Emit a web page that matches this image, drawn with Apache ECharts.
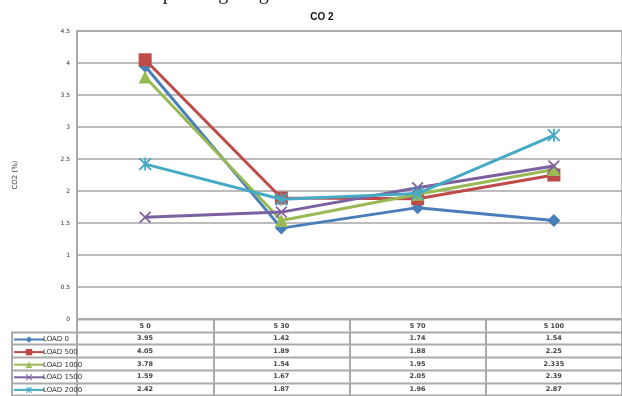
<!DOCTYPE html>
<html>
<head>
  <meta charset="UTF-8" />
  <title>CO2</title>
  <style type="text/css">
    * { margin: 0; padding: 0; }
    body { background: #fff; }
    #main { width: 622px; height: 396px; }
  </style>
</head>
<body>
  <div id="main"></div>
  <script src="https://cdn.jsdelivr.net/npm/echarts@6/dist/echarts.min.js"></script>
  <script type="text/javascript">
    // data
    let categories = ['5 0', '5 30', '5 70', '5 100']
    let seriesNames = ['LOAD 0', 'LOAD 500', 'LOAD 1000', 'LOAD 1500', 'LOAD 2000']
    let load0 = [3.95, 1.42, 1.74, 1.54]
    let load500 = [4.05, 1.89, 1.88, 2.25]
    let load1000 = [3.78, 1.54, 1.95, 2.335]
    let load1500 = [1.59, 1.67, 2.05, 2.39]
    let load2000 = [2.42, 1.87, 1.96, 2.87]
    let yTicks = [0, 0.5, 1, 1.5, 2, 2.5, 3, 3.5, 4, 4.5]

    let values = [load0, load500, load1000, load1500, load2000]
    let colors = ['#4a7ebb', '#be4b48', '#98b954', '#7d60a0', '#46aac5']
    let xPath = 'M1,0L5,4L9,0L10,1L6,5L10,9L9,10L5,6L1,10L0,9L4,5L0,1Z'
    let symbols = ['diamond', 'rect', 'triangle', 'path://' + xPath,
      'path://' + xPath + 'M4.3,0L5.7,0L5.7,10L4.3,10Z']
    let sizes = [13, 13, 13, 12, 13]

    let oBox = document.getElementById('main')
    let myChart = echarts.init(oBox)

    let series = seriesNames.map((name, i) => {
      return {
        name: name,
        type: 'line',
        data: values[i],
        symbol: symbols[i],
        symbolSize: sizes[i],
        lineStyle: { width: 3, color: colors[i] },
        itemStyle: { color: colors[i] },
        z: 2 + i
      }
    })

    let option = {
      animation: false,
      title: {
        text: 'CO 2',
        left: 317,
        top: 7,
        textAlign: 'center',
        textStyle: { fontSize: 10, fontWeight: 'bold', color: '#111', fontFamily: 'Liberation Sans' }
      },
      grid: { left: 77, right: -3, top: 31, bottom: 77, show: true, borderColor: '#bdbdbd', borderWidth: 2 },
      legend: {
        orient: 'vertical',
        left: 13,
        top: 336,
        padding: 0,
        itemGap: 5.6,
        itemWidth: 30,
        itemHeight: 8,
        data: seriesNames,
        textStyle: { fontSize: 7, color: '#333', fontFamily: 'DejaVu Sans', padding: [0, 0, 0, -6] }
      },
      xAxis: {
        type: 'category',
        data: categories,
        boundaryGap: true,
        axisLine: { show: false },
        axisTick: { show: true, length: 77, inside: false, lineStyle: { color: '#aaa', width: 2 } },
        axisLabel: { show: false },
        splitLine: { show: false }
      },
      yAxis: {
        type: 'value',
        min: yTicks[0],
        max: yTicks[yTicks.length - 1],
        interval: 0.5,
        name: 'CO2 (%)',
        nameLocation: 'middle',
        nameRotate: 90,
        nameGap: 58,
        nameTextStyle: { fontSize: 7, color: '#333', fontFamily: 'DejaVu Sans' },
        axisLine: { show: true, lineStyle: { color: '#aaa', width: 2 } },
        axisTick: { show: false },
        axisLabel: { fontSize: 6, color: '#333', margin: 7, fontFamily: 'DejaVu Sans' },
        splitLine: { show: true, lineStyle: { color: '#a6a6a6', width: 1.5 } }
      },
      series: series
    }
    myChart.setOption(option)

    // data table under the plot
    let rowTop = 319
    let rowH = 12.7
    let graphic = [{
      type: 'text',
      left: 30,
      top: -16,
      style: { text: 'function of the operating range at load CO emission', font: '20px "Liberation Serif"', fill: '#222' }
    }]
    // horizontal lines
    for (let r = 0; r <= seriesNames.length + 1; r++) {
      let y = Math.round(rowTop + r * rowH) + 0.5
      graphic.push({
        type: 'line',
        shape: { x1: r === 0 ? 77 : 12, y1: y, x2: 622, y2: y },
        style: { stroke: '#aaa', lineWidth: 2 }
      })
    }
    graphic.push({
      type: 'line',
      shape: { x1: 12, y1: rowTop + rowH, x2: 12, y2: 396 },
      style: { stroke: '#aaa', lineWidth: 2 }
    })
    categories.forEach((cat, c) => {
      let cx = myChart.convertToPixel({ xAxisIndex: 0 }, c)
      graphic.push({
        type: 'text',
        x: cx, y: rowTop + rowH / 2 + 0.5,
        style: { text: cat, font: 'bold 6.5px "DejaVu Sans"', fill: '#444', align: 'center', verticalAlign: 'middle' }
      })
      values.forEach((vals, r) => {
        graphic.push({
          type: 'text',
          x: cx, y: rowTop + (r + 1.5) * rowH + 0.5,
          style: { text: String(vals[c]), font: 'bold 6.5px "DejaVu Sans"', fill: '#444', align: 'center', verticalAlign: 'middle' }
        })
      })
    })
    myChart.setOption({ graphic: graphic })
  </script>
</body>
</html>
